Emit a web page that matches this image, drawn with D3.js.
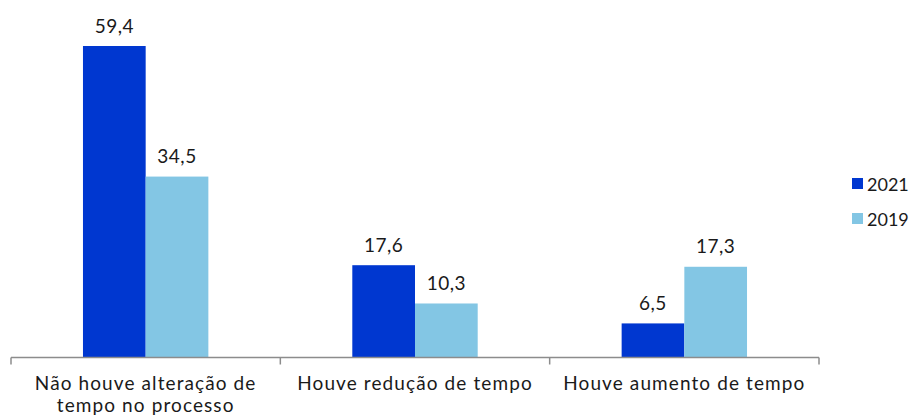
<!DOCTYPE html>
<html><head><meta charset="utf-8">
<script src="https://cdn.jsdelivr.net/npm/d3@7"></script>
<style>body{margin:0;background:#fff;}svg{display:block;font-family:Lato,"Open Sans",sans-serif;}</style>
</head><body><svg id="c" width="909" height="417"></svg>
<script>
const categories = [["Não houve alteração de","tempo no processo"],["Houve redução de tempo"],["Houve aumento de tempo"]];
const seriesNames = ["2021","2019"];
const values2021 = [59.4, 17.6, 6.5];
const values2019 = [34.5, 10.3, 17.3];
const colors = ["#0037d0","#83c6e4"];

const svg = d3.select("#c");
const baseY = 357.5;
const x0 = d3.scaleBand().domain(d3.range(categories.length)).range([11, 819]).padding(0);
const x1 = d3.scaleBand().domain(seriesNames).range([0, x0.bandwidth()]).paddingInner(0).paddingOuter(1.148);
const y = d3.scaleLinear().domain([0, 59.4]).range([baseY, 46]);
const series = [values2021, values2019];
const fmt = v => d3.format(".1f")(v).replace(".", ",");

categories.forEach((cat, i) => {
  const g = svg.append("g").attr("transform", `translate(${x0(i)},0)`);
  seriesNames.forEach((s, j) => {
    const v = series[j][i];
    g.append("rect").attr("x", x1(s)).attr("y", y(v)).attr("width", x1.bandwidth()).attr("height", baseY - y(v)).attr("fill", colors[j]);
    g.append("text").attr("x", x1(s) + x1.bandwidth()/2).attr("y", y(v) - 13.5).attr("text-anchor","middle")
      .attr("font-size", 19).attr("letter-spacing", 0.5).attr("fill", "#1a1a1a").text(fmt(v));
  });
});

// axis
const axis = svg.append("g").attr("transform", `translate(0,${baseY})`);
axis.append("line").attr("x1", 11).attr("x2", 819).attr("stroke", "#8c8c8c").attr("stroke-width", 1.5);
const ticks = d3.range(categories.length + 1).map(i => i < categories.length ? x0(i) : x0(i-1) + x0.bandwidth());
axis.selectAll("line.t").data(ticks).join("line").attr("class","t").attr("x1", d=>d).attr("x2", d=>d).attr("y1", 0).attr("y2", 7).attr("stroke", "#8c8c8c").attr("stroke-width", 1.5);
categories.forEach((cat, i) => {
  cat.forEach((line, k) => svg.append("text").attr("text-anchor","middle").attr("font-size", 19).attr("letter-spacing", 1.1).attr("fill","#1a1a1a")
    .attr("x", x0(i) + x0.bandwidth()/2).attr("y", 390 + k*22).text(line));
});

// legend
seriesNames.forEach((s, j) => {
  const ly = 178 + j*35;
  svg.append("rect").attr("x", 852).attr("y", ly).attr("width", 11).attr("height", 11).attr("fill", colors[j]);
  svg.append("text").attr("x", 867).attr("y", ly + 12.5).attr("font-size", 18).attr("fill", "#1a1a1a").text(s);
});
</script></body></html>
